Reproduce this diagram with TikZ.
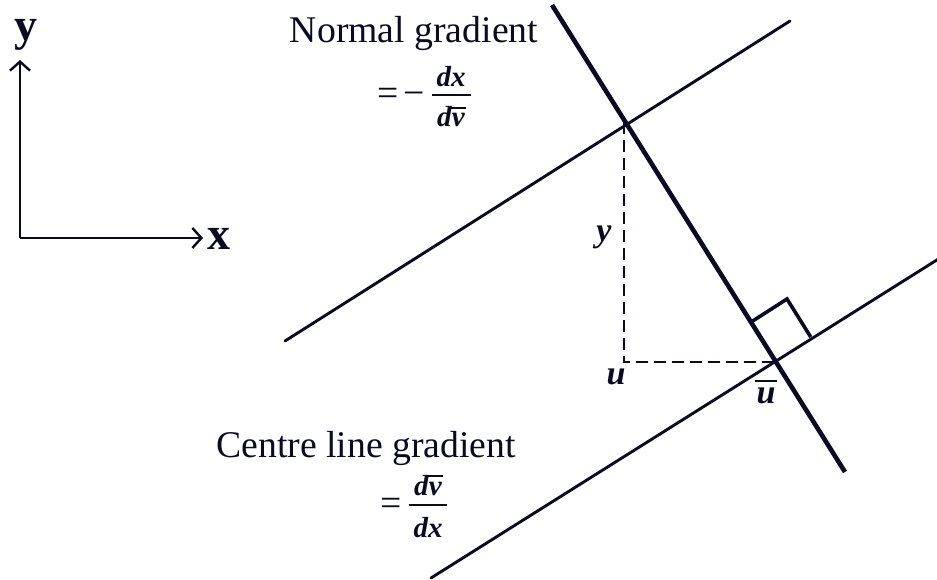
\documentclass[tikz,border=0pt]{standalone}
\usepackage{fontspec}
\setmainfont{Liberation Serif}
\usetikzlibrary{arrows.meta}
\definecolor{ink}{RGB}{10,10,35}
\newcommand{\bit}[1]{\textbf{\textit{#1}}}
\newcommand{\ovl}[1]{\setbox0\hbox{#1}\rlap{\hspace{-0.04em}\raisebox{0.63em}{\rule{\dimexpr\wd0+0.08em\relax}{0.06em}}}\box0}
\begin{document}
\begin{tikzpicture}[x=1pt,y=-1pt,
  thinline/.style={draw=ink, line width=2.9pt, line cap=round},
  thickline/.style={draw=ink, line width=4.6pt},
  axisline/.style={draw=ink, line width=2.4pt, -{Straight Barb[length=9pt,width=20pt]}},
  dashline/.style={draw=ink, line width=2.7pt, dash pattern=on 12pt off 6pt},
  rightmark/.style={draw=ink, line width=3.6pt, line join=miter},
  barline/.style={draw=ink, line width=1.4pt},
  bigtext/.style={font=\fontsize{37.7}{40}\selectfont, inner sep=0pt, anchor=base, text=ink},
  fractext/.style={font=\fontsize{29}{31}\selectfont, inner sep=0pt, anchor=base, text=ink},
  axislabel/.style={font=\fontsize{46}{48}\selectfont\bfseries, inner sep=0pt, anchor=base, text=ink},
  varlabel/.style={font=\fontsize{34}{36}\selectfont, inner sep=0pt, anchor=base, text=ink}]
\useasboundingbox (0,0) rectangle (937,580);
% axes
\coordinate (O) at (20,238);
\coordinate (Ytip) at (20,60);
\coordinate (Xtip) at (203,238);
\draw[axisline] (O) -- (Ytip);
\draw[axisline] (O) -- (Xtip);
\node[axislabel] (ylab) at (26,41) {y};
\node[axislabel] (xlab) at (219,250) {x};
% lines
\coordinate (N1) at (552,5);
\coordinate (N2) at (845,472);
\coordinate (U1) at (285,341);
\coordinate (U2) at (790,21);
\coordinate (L1) at (431,578);
\coordinate (L2) at (940,258);
\coordinate (P) at (624,122);
\coordinate (Pu) at (624,362);
\coordinate (Q) at (776,362);
\draw[thinline] (U1) -- (U2);
\draw[thinline] (L1) -- (L2);
\draw[thickline] (N1) -- (N2);
\draw[dashline] (P) -- (Pu) -- (Q);
% right angle mark
\coordinate (R1) at (752.7,321);
\coordinate (R2) at (787,299);
\coordinate (R3) at (810.7,337);
\draw[rightmark] (R1) -- (R2) -- (R3);
% labels
\node[varlabel] (ly) at (604,241) {\bit{y}};
\node[varlabel] (lu) at (616,384) {\bit{u}};
\node[varlabel] (lub) at (766,403) {\ovl{\bit{u}}};
% normal gradient
\node[bigtext] (ng) at (414,43) {Normal gradient};
\node[bigtext] (ngeq) at (388,106) {=};
\node[bigtext] (ngmin) at (414,106) {−};
\node[fractext] (ngnum) at (451,87) {\bit{dx}};
\node[fractext] (ngden) at (451,127) {\bit{d}\ovl{\bit{v}}};
\coordinate (ngb1) at (432,95);
\coordinate (ngb2) at (471,95);
\draw[barline] (ngb1) -- (ngb2);
% centre line gradient
\node[bigtext] (cg) at (366,457) {Centre line gradient};
\node[bigtext] (cgeq) at (391,515) {=};
\node[fractext] (cgnum) at (428,495) {\bit{d}\ovl{\bit{v}}};
\node[fractext] (cgden) at (428,537) {\bit{dx}};
\coordinate (cgb1) at (409,505);
\coordinate (cgb2) at (447,505);
\draw[barline] (cgb1) -- (cgb2);
\end{tikzpicture}
\end{document}
